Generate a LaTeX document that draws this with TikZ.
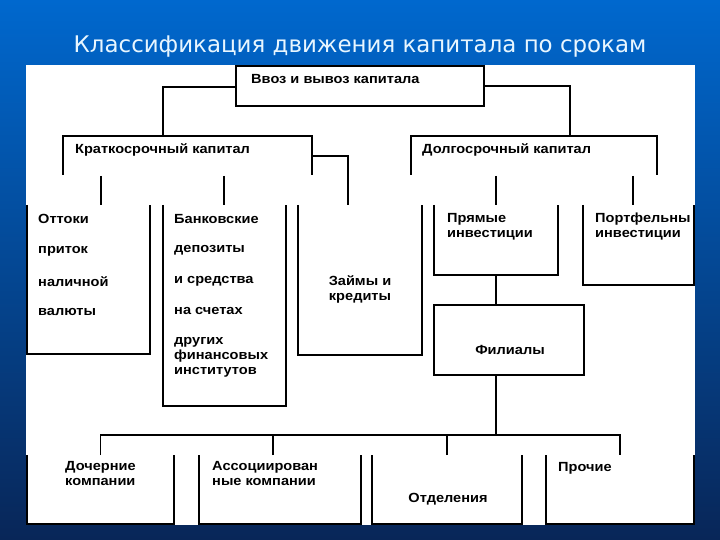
\documentclass[tikz,border=0pt]{standalone}
\usepackage{fontspec}
\newfontfamily\boxfont{Liberation Sans}[FakeStretch=1.1]
\newfontfamily\titlefont{DejaVu Sans}
\usetikzlibrary{calc}
\definecolor{bgtop}{RGB}{0,104,206}
\definecolor{bgmid}{RGB}{6,80,168}
\definecolor{bgbot}{RGB}{8,38,88}
\definecolor{titlecol}{RGB}{232,246,255}
\begin{document}
\begin{tikzpicture}[x=1bp,y=-1bp,
  frame/.style={draw=black,line width=1.1bp,line join=miter},
  conn/.style={draw=black,line width=1.1bp},
  boxarea/.style={inner sep=0pt,outer sep=0pt,draw=none},
  txt/.style={font=\boxfont\bfseries\fontsize{13.3}{15}\selectfont,inner sep=0pt,anchor=west,align=left},
  ctxt/.style={font=\boxfont\bfseries\fontsize{13.3}{15}\selectfont,inner sep=0pt,align=center},
]
% background
\shade[top color=bgtop,middle color=bgmid,bottom color=bgbot] (0,0) rectangle (720,540);
\useasboundingbox (0,0) rectangle (720,540);
\fill[white] (26,65) rectangle (695,525);

% title
\node[font=\titlefont\fontsize{23}{28}\selectfont,text=titlecol,inner sep=0pt] (title) at (360,47) {Классификация движения капитала по срокам};

% box areas
\node[boxarea,minimum width=248bp,minimum height=40bp] (top) at (360,86) {};
\node[boxarea,minimum width=249bp,minimum height=39bp] (kr) at (187.5,155.5) {};
\node[boxarea,minimum width=246bp,minimum height=39bp] (dl) at (534,155.5) {};
\node[boxarea,minimum width=123bp,minimum height=149bp] (ott) at (88.5,279.5) {};
\node[boxarea,minimum width=123bp,minimum height=201bp] (bank) at (224.5,305.5) {};
\node[boxarea,minimum width=124bp,minimum height=150bp] (zaim) at (360,280) {};
\node[boxarea,minimum width=124bp,minimum height=70bp] (pr) at (496,240) {};
\node[boxarea,minimum width=111bp,minimum height=80bp] (port) at (638.5,245) {};
\node[boxarea,minimum width=150bp,minimum height=70bp] (fil) at (509,340) {};
\node[boxarea,minimum width=147bp,minimum height=69bp] (doch) at (100.5,489.5) {};
\node[boxarea,minimum width=162bp,minimum height=69bp] (assoc) at (280,489.5) {};
\node[boxarea,minimum width=150bp,minimum height=69bp] (otd) at (447,489.5) {};
\node[boxarea,minimum width=148bp,minimum height=69bp] (proch) at (620,489.5) {};

% box outlines
\draw[frame] (top.north west) rectangle (top.south east);
\draw[frame] (fil.north west) rectangle (fil.south east);
\foreach \b in {kr,dl}
  \draw[frame] (\b.south west) -- (\b.north west) -- (\b.north east) -- (\b.south east);
\foreach \b in {ott,bank,zaim,pr,port,doch,assoc,otd,proch}
  \draw[frame] (\b.north west) -- (\b.south west) -- (\b.south east) -- (\b.north east);

% connectors
\draw[conn] ($(top.north west)+(0,21)$) -| ($(kr.north west)+(100,0)$);
\draw[conn] ($(top.north east)+(0,20)$) -| ($(dl.north west)+(159,0)$);
\draw[conn] ($(kr.south west)+(38,1)$) coordinate (k1) -- (k1 |- ott.north);
\draw[conn] ($(kr.south west)+(161,1)$) coordinate (k2) -- (k2 |- bank.north);
\draw[conn] ($(kr.north east)+(0,20)$) -| ($(zaim.north west)+(50,0)$);
\draw[conn] ($(dl.south west)+(85,1)$) coordinate (d1) -- (d1 |- pr.north);
\draw[conn] ($(dl.south west)+(222,1)$) coordinate (d2) -- (d2 |- port.north);
\draw[conn] (pr.south) -- (pr.south |- fil.north);
\coordinate (bus) at (496,435);
\draw[conn] (pr.south |- fil.south) -- (bus);
\draw[conn] (doch.north) -- (doch.north |- bus) -- (proch.north |- bus) -- (proch.north);
\draw[conn] ($(assoc.north west)+(74,0)$) coordinate (a1) -- (a1 |- bus);
\draw[conn] (otd.north) -- (otd.north |- bus);

% texts
\node[txt] (ttop) at (251,79) {Ввоз и вывоз капитала};
\node[txt] (tkr) at (75,150) {Краткосрочный капитал};
\node[txt] (tdl) at (422,150) {Долгосрочный капитал};
\node[txt] (to1) at (38,219) {Оттоки};
\node[txt] (to2) at (38,251) {приток};
\node[txt] (to3) at (38,282) {наличной};
\node[txt] (to4) at (38,312) {валюты};
\node[txt] (tb1) at (174,219) {Банковские};
\node[txt] (tb2) at (174,250) {депозиты};
\node[txt] (tb3) at (174,281) {и средства};
\node[txt] (tb4) at (174,311) {на счетах};
\node[txt,anchor=north west] (tb5) at (174,337) {других\\финансовых\\институтов};
\node[ctxt] (tz) at (360,289) {Займы и\\кредиты};
\node[txt,anchor=north west] (tpr) at (447,213) {Прямые\\инвестиции};
\node[txt,anchor=north west] (tport) at (595,213) {Портфельны\\инвестиции};
\node[ctxt] (tfil) at (510,350) {Филиалы};
\node[txt,anchor=north west] (tdoch) at (65,461) {Дочерние\\компании};
\node[txt,anchor=north west] (tassoc) at (212,461) {Ассоциирован\\ные компании};
\node[ctxt] (totd) at (448,499) {Отделения};
\node[txt] (tproch) at (558,468) {Прочие};
\end{tikzpicture}
\end{document}
